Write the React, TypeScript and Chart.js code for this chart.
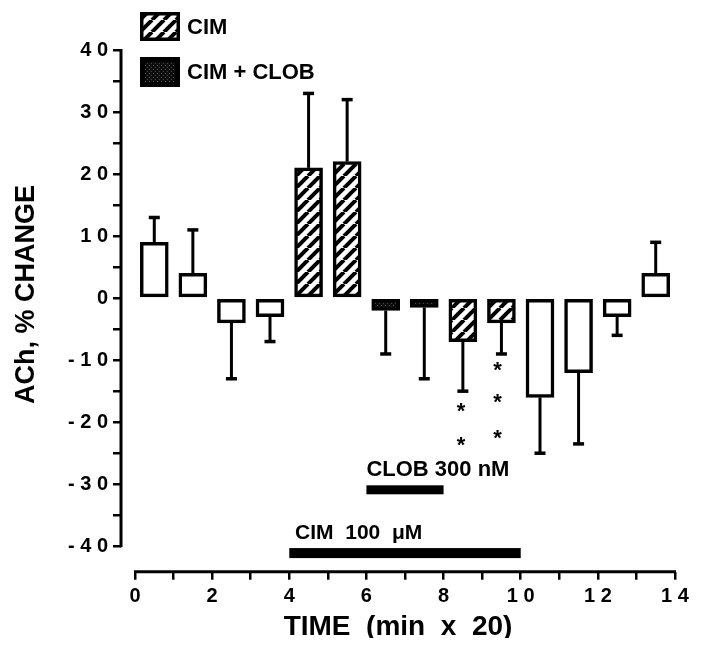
import React, { useEffect, useRef } from 'react';
import { Chart, registerables } from 'chart.js';

Chart.register(...registerables);

// ---------- data ----------
const times = [0.5, 1.5, 2.5, 3.5, 4.5, 5.5, 6.5, 7.5, 8.5, 9.5, 10.5, 11.5, 12.5, 13.5];
const controlValues = [9, 4, -4, -3, null, null, null, null, null, null, -16, -12, -3, 4];
const cimValues = [null, null, null, null, 21, 22, null, null, -7, -4, null, null, null, null];
const cimClobValues = [null, null, null, null, null, null, -2, -1.5, null, null, null, null, null, null];
const semValues = [4, 7, 9, 4, 12, 10, 7, 11.5, 8, 5, 9, 11.5, 3, 5];

const xTickValues = [0, 1, 2, 3, 4, 5, 6, 7, 8, 9, 10, 11, 12, 13, 14];
const yTickValues = [-40, -35, -30, -25, -20, -15, -10, -5, 0, 5, 10, 15, 20, 25, 30, 35, 40];

const asteriskX = [8.45, 8.45, 9.4, 9.4, 9.4];
const asteriskY = [-17.4, -22.9, -10.8, -16.0, -21.8];

const treatmentLabels = ['CLOB 300 nM', 'CIM  100  μM'];
const treatmentStart = [6, 4];
const treatmentEnd = [8, 10];
const treatmentY = [-30.9, -41.1];
const treatmentLabelY = [-27.7, -37.9];
const treatmentLabelX = [6, 4.15];

const legendLabels = ['CIM', 'CIM + CLOB'];

const xTitle = 'TIME  (min  x  20)';
const yTitle = 'ACh, % CHANGE';

const FONT = '"Liberation Sans", Arial, Helvetica, sans-serif';

const spaced = (v: number) => String(v).split('').join(' ');

function makeHatch(): CanvasPattern | string {
  const c = document.createElement('canvas');
  c.width = 12;
  c.height = 12;
  const g = c.getContext('2d');
  if (!g) return '#888';
  g.fillStyle = '#fff';
  g.fillRect(0, 0, 12, 12);
  g.strokeStyle = '#000';
  g.lineWidth = 4;
  for (const k of [-12, 0, 12]) {
    g.beginPath();
    g.moveTo(k, 12);
    g.lineTo(k + 12, 0);
    g.stroke();
  }
  return g.createPattern(c, 'repeat') || '#888';
}

function makeStipple(): CanvasPattern | string {
  const c = document.createElement('canvas');
  c.width = 4;
  c.height = 4;
  const g = c.getContext('2d');
  if (!g) return '#111';
  g.fillStyle = '#0d0d0d';
  g.fillRect(0, 0, 4, 4);
  g.fillStyle = '#5a5a5a';
  g.fillRect(1, 1, 1, 1);
  g.fillStyle = '#444';
  g.fillRect(3, 3, 1, 1);
  return g.createPattern(c, 'repeat') || '#111';
}

export default function App() {
  const ref = useRef<HTMLCanvasElement | null>(null);

  useEffect(() => {
    const canvas = ref.current;
    if (!canvas) return;
    const hatch = makeHatch();
    const stipple = makeStipple();

    const toPoints = (vals: (number | null)[]) =>
      times
        .map((t, i) => ({ x: t, y: vals[i] }))
        .filter((p) => p.y !== null) as { x: number; y: number }[];

    const barCommon = {
      borderColor: '#000',
      borderWidth: 3.5,
      borderSkipped: false as const,
      barThickness: 28,
      grouped: false,
    };

    const decorPlugin = {
      id: 'decor',
      afterDatasetsDraw(chart: any) {
        const { ctx, chartArea, scales } = chart;
        const xs = scales.x;
        const ys = scales.y;
        ctx.save();
        ctx.strokeStyle = '#000';
        ctx.fillStyle = '#000';

        // error bars (one-sided, away from zero)
        times.forEach((t, i) => {
          const v = controlValues[i] ?? cimValues[i] ?? cimClobValues[i];
          if (v === null || v === undefined) return;
          const end = v + Math.sign(v) * semValues[i];
          const px = xs.getPixelForValue(t);
          const y0 = ys.getPixelForValue(v);
          const y1 = ys.getPixelForValue(end);
          ctx.lineWidth = 3;
          ctx.beginPath();
          ctx.moveTo(px, y0);
          ctx.lineTo(px, y1);
          ctx.stroke();
          ctx.lineWidth = 3.5;
          ctx.beginPath();
          ctx.moveTo(px - 5.5, y1);
          ctx.lineTo(px + 5.5, y1);
          ctx.stroke();
        });

        // axis lines
        ctx.lineWidth = 3;
        ctx.beginPath();
        ctx.moveTo(chartArea.left, ys.getPixelForValue(40) - 1);
        ctx.lineTo(chartArea.left, ys.getPixelForValue(-40) + 1);
        ctx.stroke();
        ctx.beginPath();
        ctx.moveTo(xs.getPixelForValue(0) - 1, chartArea.bottom);
        ctx.lineTo(xs.getPixelForValue(14) + 1, chartArea.bottom);
        ctx.stroke();

        // y-axis title
        ctx.save();
        ctx.translate(19, ys.getPixelForValue(0.6));
        ctx.rotate(-Math.PI / 2);
        ctx.font = `bold 27px ${FONT}`;
        ctx.textAlign = 'center';
        ctx.textBaseline = 'middle';
        ctx.fillText(yTitle, 0, 0);
        ctx.restore();

        // asterisks
        ctx.font = `bold 22px ${FONT}`;
        ctx.textAlign = 'center';
        ctx.textBaseline = 'alphabetic';
        asteriskX.forEach((ax, i) => {
          ctx.fillText('*', xs.getPixelForValue(ax), ys.getPixelForValue(asteriskY[i]) + 12);
        });

        // treatment bars and labels
        const thick = [9, 10];
        const fontSizes = [22, 21];
        treatmentLabels.forEach((lab, i) => {
          const x0 = xs.getPixelForValue(treatmentStart[i]);
          const x1 = xs.getPixelForValue(treatmentEnd[i]);
          const yc = ys.getPixelForValue(treatmentY[i]);
          ctx.fillStyle = '#000';
          ctx.fillRect(x0, yc - thick[i] / 2, x1 - x0, thick[i]);
          ctx.font = `bold ${fontSizes[i]}px ${FONT}`;
          ctx.textAlign = 'left';
          ctx.textBaseline = 'middle';
          ctx.fillText(lab, xs.getPixelForValue(treatmentLabelX[i]), ys.getPixelForValue(treatmentLabelY[i]));
        });

        // legend
        const lx = chartArea.left + 19;
        const boxes = [
          { y: 4, h: 29, fill: hatch, bw: 3.5 },
          { y: 49, h: 30, fill: stipple, bw: 5 },
        ];
        boxes.forEach((b, i) => {
          ctx.fillStyle = b.fill as any;
          ctx.fillRect(lx, b.y, 40, b.h);
          ctx.lineWidth = b.bw;
          ctx.strokeStyle = '#000';
          ctx.strokeRect(lx + b.bw / 2, b.y + b.bw / 2, 40 - b.bw, b.h - b.bw);
          ctx.fillStyle = '#000';
          ctx.font = `bold 22px ${FONT}`;
          ctx.textAlign = 'left';
          ctx.textBaseline = 'middle';
          ctx.fillText(legendLabels[i], lx + 47, b.y + b.h / 2 + 1);
        });
        ctx.restore();
      },
    };

    const chart = new Chart(canvas, {
      type: 'bar',
      data: {
        datasets: [
          { label: 'Control', data: toPoints(controlValues), backgroundColor: '#fff', ...barCommon },
          { label: 'CIM', data: toPoints(cimValues), backgroundColor: hatch as any, ...barCommon },
          { label: 'CIM + CLOB', data: toPoints(cimClobValues), backgroundColor: stipple as any, ...barCommon },
        ] as any,
      },
      options: {
        animation: false,
        responsive: true,
        maintainAspectRatio: false,
        layout: { padding: { top: 42, right: 19, left: 0, bottom: 0 } },
        plugins: {
          legend: { display: false },
          tooltip: { enabled: false },
        },
        scales: {
          x: {
            type: 'linear',
            offset: false,
            min: -0.363,
            max: 14,
            afterBuildTicks: (s: any) => {
              s.ticks = xTickValues.map((v) => ({ value: v }));
            },
            afterFit: (s: any) => {
              s.height = 74.3;
            },
            border: { display: false },
            grid: {
              offset: false,
              drawOnChartArea: false,
              drawTicks: true,
              tickLength: 8,
              color: '#000',
              lineWidth: 2.5,
            },
            ticks: {
              callback: (v: any) => (Number(v) % 2 === 0 ? spaced(Number(v)) : ''),
              color: '#000',
              font: { family: FONT, size: 20, weight: 'bold' },
              padding: 5,
              maxRotation: 0,
              autoSkip: false,
            },
            title: {
              display: true,
              text: xTitle,
              color: '#000',
              font: { family: FONT, size: 28, weight: 'bold', lineHeight: 1.36 },
              padding: 0,
            },
          },
          y: {
            type: 'linear',
            min: -44.1,
            max: 40,
            afterBuildTicks: (s: any) => {
              s.ticks = yTickValues.map((v) => ({ value: v }));
            },
            afterFit: (s: any) => {
              s.width = 113;
            },
            border: { display: false },
            grid: {
              drawOnChartArea: false,
              drawTicks: true,
              tickLength: 8,
              color: '#000',
              lineWidth: 2.5,
            },
            ticks: {
              callback: (v: any) => (Number(v) % 10 === 0 ? spaced(Number(v)) : ''),
              color: '#000',
              font: { family: FONT, size: 20, weight: 'bold' },
              padding: 5,
              autoSkip: false,
            },
            title: { display: false, text: yTitle },
          },
        },
      } as any,
      plugins: [decorPlugin],
    });

    return () => chart.destroy();
  }, []);

  return (
    <div style={{ width: 686, height: 638, position: 'relative', marginBottom: -8 }}>
      <canvas ref={ref} />
    </div>
  );
}
